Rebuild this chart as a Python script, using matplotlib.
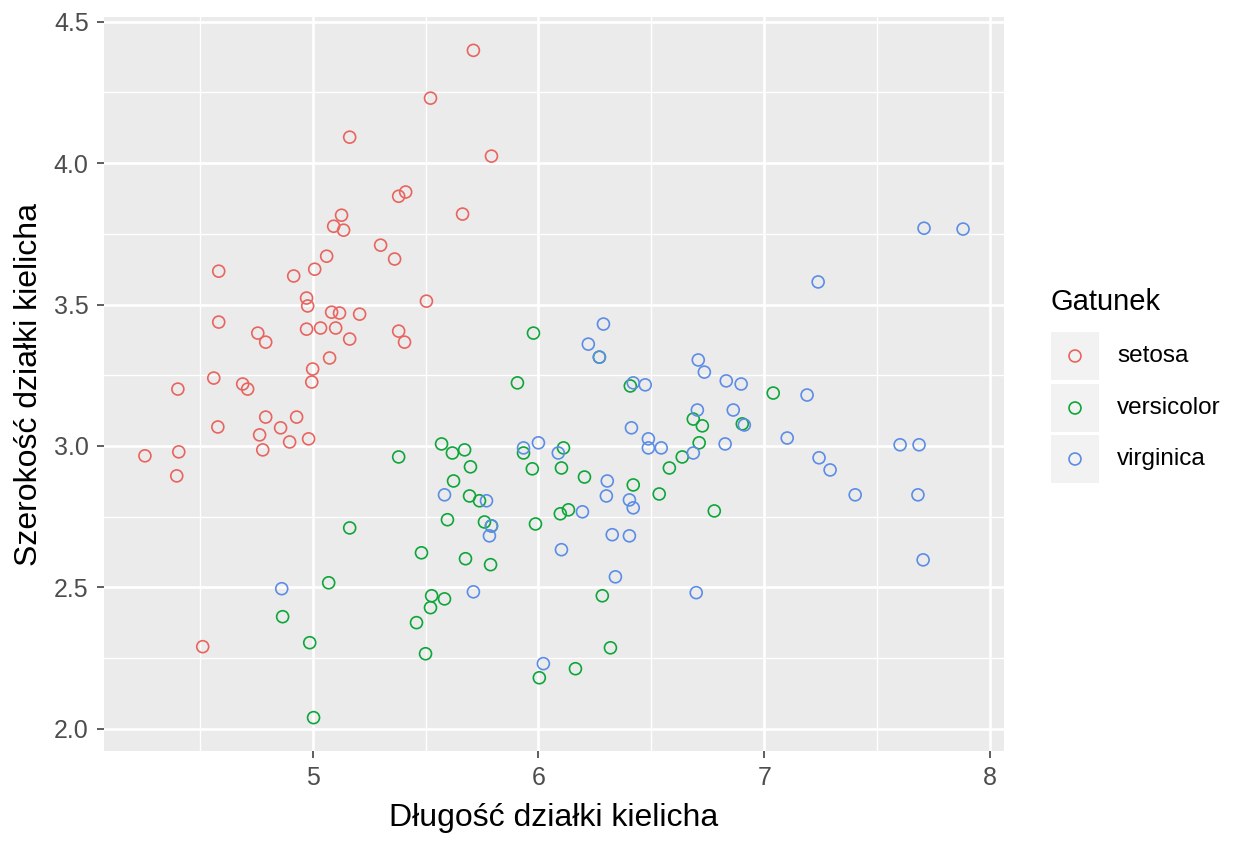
import matplotlib
matplotlib.use('Agg')
import matplotlib.pyplot as plt
from matplotlib.patches import Rectangle

plt.rc('font', family=['Liberation Sans', 'DejaVu Sans'])

# Iris sepal data (jittered)
setosa_x = [5.712, 5.522, 5.164, 5.792, 5.664, 5.412, 5.381, 5.128, 5.093, 5.137,
            5.301, 5.062, 5.363, 5.009, 4.584, 4.916, 4.973, 4.978, 5.504, 5.208,
            5.084, 5.119, 4.584, 4.973, 5.035, 5.102, 5.381, 4.757, 5.164, 5.407,
            4.792, 5.000, 5.075, 4.403, 4.562, 4.690, 4.712, 4.996, 4.792, 4.929,
            4.580, 4.858, 4.765, 4.982, 4.898, 4.407, 4.779, 4.257, 4.398, 4.513]
setosa_y = [4.399, 4.230, 4.092, 4.025, 3.820, 3.898, 3.883, 3.816, 3.777, 3.763,
            3.710, 3.671, 3.661, 3.625, 3.618, 3.601, 3.523, 3.495, 3.512, 3.466,
            3.473, 3.470, 3.438, 3.413, 3.417, 3.417, 3.406, 3.399, 3.378, 3.367,
            3.367, 3.272, 3.311, 3.201, 3.240, 3.219, 3.201, 3.226, 3.102, 3.102,
            3.067, 3.064, 3.039, 3.025, 3.014, 2.979, 2.986, 2.965, 2.894, 2.290]

versicolor_x = [5.978, 5.907, 6.407, 6.686, 6.726, 6.712, 6.637, 6.580, 6.420, 6.535,
                6.779, 7.040, 6.903, 5.571, 5.619, 5.673, 5.699, 5.934, 5.973, 6.102,
                6.111, 6.204, 5.624, 5.695, 5.739, 5.597, 5.761, 5.792, 5.987, 6.097,
                6.133, 5.482, 5.677, 5.788, 5.527, 5.584, 5.522, 5.460, 5.500, 6.283,
                6.319, 6.004, 6.164, 5.381, 5.164, 5.071, 4.867, 4.987, 5.004, 6.270]
versicolor_y = [3.399, 3.223, 3.212, 3.095, 3.071, 3.011, 2.961, 2.922, 2.862, 2.830,
                2.770, 3.187, 3.078, 3.007, 2.975, 2.986, 2.926, 2.975, 2.919, 2.922,
                2.993, 2.890, 2.876, 2.823, 2.806, 2.739, 2.731, 2.717, 2.724, 2.760,
                2.774, 2.622, 2.601, 2.580, 2.470, 2.459, 2.428, 2.375, 2.265, 2.470,
                2.286, 2.180, 2.212, 2.961, 2.710, 2.516, 2.396, 2.304, 2.039, 3.314]

virginica_x = [7.708, 7.881, 7.239, 6.288, 6.221, 6.270, 6.708, 6.735, 6.832, 6.898,
               6.420, 6.473, 7.190, 6.863, 6.704, 6.912, 6.412, 6.487, 7.102, 6.487,
               6.544, 6.827, 6.686, 7.602, 7.686, 7.243, 7.292, 7.403, 7.681, 7.704,
               6.699, 6.000, 5.934, 6.088, 5.584, 5.770, 5.792, 5.783, 6.195, 6.305,
               6.301, 6.403, 6.420, 6.327, 6.403, 6.102, 6.341, 5.712, 6.022, 4.863]
virginica_y = [3.770, 3.767, 3.580, 3.431, 3.360, 3.314, 3.304, 3.261, 3.230, 3.219,
               3.223, 3.216, 3.180, 3.127, 3.127, 3.074, 3.064, 3.025, 3.028, 2.993,
               2.993, 3.007, 2.975, 3.004, 3.004, 2.958, 2.915, 2.827, 2.827, 2.597,
               2.481, 3.011, 2.993, 2.975, 2.827, 2.806, 2.717, 2.682, 2.767, 2.876,
               2.823, 2.809, 2.781, 2.686, 2.682, 2.633, 2.537, 2.484, 2.230, 2.495]

species = ['setosa', 'versicolor', 'virginica']
colors = ['#E9645E', '#0DA639', '#5C8DE6']
series = [(setosa_x, setosa_y), (versicolor_x, versicolor_y), (virginica_x, virginica_y)]

x_ticks = [5, 6, 7, 8]
y_ticks = [2.0, 2.5, 3.0, 3.5, 4.0, 4.5]

W, H = 1248, 848
fig = plt.figure(figsize=(W / 100, H / 100), dpi=100)

# panel placed in pixel coordinates
pl, pr, pt, pb = 104, 1004, 17, 751
ax = fig.add_axes([pl / W, 1 - pb / H, (pr - pl) / W, (pb - pt) / H])
ax.set_facecolor('#EBEBEB')
for s in ax.spines.values():
    s.set_visible(False)

for (xs, ys), c in zip(series, colors):
    ax.scatter(xs, ys, s=74, facecolors='none', edgecolors=c, linewidths=1.2, zorder=3)

# ggplot-like 5% expansion
all_x = setosa_x + versicolor_x + virginica_x
all_y = setosa_y + versicolor_y + virginica_y
dx = (max(all_x) - min(all_x)) * 0.05
dy = (max(all_y) - min(all_y)) * 0.05
ax.set_xlim(min(all_x) - dx, max(all_x) + dx)
ax.set_ylim(min(all_y) - dy, max(all_y) + dy)

ax.set_xticks(x_ticks)
ax.set_xticklabels([str(v) for v in x_ticks])
ax.set_yticks(y_ticks)
ax.set_yticklabels([f'{v:.1f}' for v in y_ticks])
ax.set_xticks([v + 0.5 for v in range(4, 8)], minor=True)
ax.set_yticks([v + 0.25 for v in y_ticks[:-1]], minor=True)

ax.grid(which='major', color='white', linewidth=1.9, zorder=0)
ax.grid(which='minor', color='white', linewidth=0.95, zorder=0)
ax.set_axisbelow(True)
ax.tick_params(which='major', length=5, width=1.1, color='#333333',
               labelcolor='#4D4D4D', labelsize=18, pad=6)
ax.tick_params(which='minor', length=0)

fig.text(554 / W, 1 - 826 / H, 'Długość działki kielicha', ha='center',
         va='baseline', fontsize=23, color='black')
fig.text(29 / W, 1 - 384 / H, 'Szerokość działki kielicha', ha='center',
         va='center', rotation=90, fontsize=23, color='black')

# legend drawn in a pixel-mapped overlay axes
lax = fig.add_axes([0, 0, 1, 1])
lax.set_xlim(0, W)
lax.set_ylim(H, 0)
lax.axis('off')
lax.text(1051, 310, 'Gatunek', fontsize=21, va='baseline', ha='left')
key_top = [332, 384, 435]
for top, name, c in zip(key_top, species, colors):
    lax.add_patch(Rectangle((1051, top), 48, 48, facecolor='#F2F2F2', edgecolor='none'))
    lax.scatter([1075], [top + 24], s=74, facecolors='none', edgecolors=c, linewidths=1.2)
    lax.text(1117, top + 24, name, fontsize=17.5, va='center', ha='left')

fig.savefig('out.png', dpi=100)
